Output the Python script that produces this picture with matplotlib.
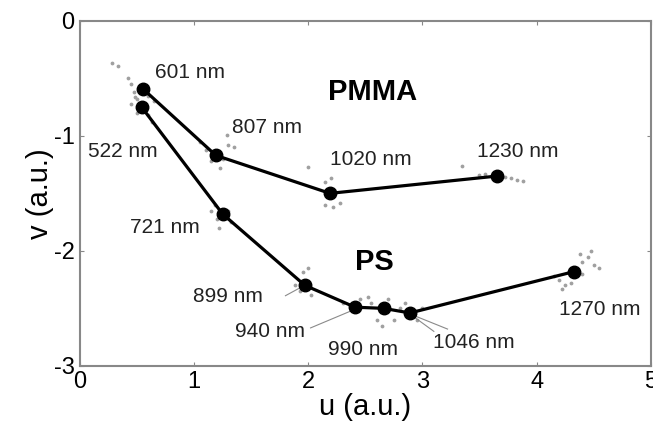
import matplotlib
matplotlib.use("Agg")
import matplotlib.pyplot as plt

plt.rcParams["font.family"] = ["Liberation Sans", "DejaVu Sans"]
plt.rcParams["axes.unicode_minus"] = False

# node positions
pmma_u = [0.55, 1.19, 2.19, 3.65]
pmma_v = [-0.59, -1.17, -1.50, -1.35]
pmma_labels = ["601 nm", "807 nm", "1020 nm", "1230 nm"]
pmma_label_u = [0.66, 1.33, 2.19, 3.48]
pmma_label_v = [-0.45, -0.93, -1.21, -1.14]

ps_u = [0.54, 1.25, 1.97, 2.41, 2.66, 2.89, 4.33]
ps_v = [-0.75, -1.68, -2.30, -2.49, -2.50, -2.54, -2.18]
ps_labels = ["522 nm", "721 nm", "899 nm", "940 nm", "990 nm", "1046 nm", "1270 nm"]
ps_label_u = [0.07, 0.44, 0.99, 1.36, 2.17, 3.09, 4.20]
ps_label_v = [-1.14, -1.80, -2.40, -2.70, -2.86, -2.80, -2.51]

# scattered measurements around the nodes
cloud_u = [0.28, 0.33, 0.42, 0.45, 0.60, 0.65, 0.50, 0.47, 0.45, 0.50, 0.60, 0.63, 0.48,
           1.05, 1.10, 1.15, 1.25, 1.30, 1.23, 1.35, 1.29,
           2.15, 2.20, 2.15, 2.22, 2.28, 2.00, 3.35,
           3.72, 3.78, 3.83, 3.88, 3.55, 3.50,
           1.18, 1.20, 1.30, 1.32, 1.22, 1.15,
           1.95, 2.00, 1.88, 2.02, 1.93,
           2.30, 2.45, 2.55, 2.60, 2.70, 2.75, 2.80, 2.95, 3.00, 2.65, 2.52, 2.85,
           4.20, 4.15, 4.25, 4.40, 4.45, 4.50, 4.40, 4.48, 4.38, 4.30, 4.22, 4.55]
cloud_v = [-0.37, -0.39, -0.50, -0.55, -0.65, -0.70, -0.68, -0.62, -0.72, -0.80, -0.82, -0.88, -0.66,
           -1.05, -1.12, -1.22, -1.20, -1.08, -1.28, -1.10, -0.99,
           -1.40, -1.37, -1.60, -1.62, -1.58, -1.27, -1.26,
           -1.36, -1.37, -1.38, -1.39, -1.33, -1.34,
           -1.60, -1.72, -1.65, -1.75, -1.80, -1.65,
           -2.18, -2.15, -2.30, -2.38, -2.35,
           -2.45, -2.42, -2.45, -2.60, -2.42, -2.60, -2.50, -2.60, -2.50, -2.65, -2.40, -2.45,
           -2.25, -2.22, -2.30, -2.10, -2.05, -2.12, -2.20, -2.00, -2.03, -2.28, -2.33, -2.15]

# thin leader lines (start u, start v, end u, end v)
leader_u0 = [1.80, 2.02, 2.92, 2.92]
leader_v0 = [-2.39, -2.67, -2.56, -2.57]
leader_u1 = [1.93, 2.38, 3.22, 3.10]
leader_v1 = [-2.32, -2.52, -2.68, -2.70]

fig = plt.figure(figsize=(6.53, 4.34), dpi=100)
ax = fig.add_axes([0.1225, 0.157, 0.874, 0.795])

ax.scatter(cloud_u, cloud_v, s=3, color="#a0a0a0", zorder=2)
for u0, v0, u1, v1 in zip(leader_u0, leader_v0, leader_u1, leader_v1):
    ax.plot([u0, u1], [v0, v1], color="#8a8a8a", lw=0.8, zorder=2)

ax.plot(pmma_u, pmma_v, color="black", lw=2.3, marker="o", ms=9, zorder=3)
ax.plot(ps_u, ps_v, color="black", lw=2.3, marker="o", ms=9, zorder=3)

for txt, u, v in zip(pmma_labels, pmma_label_u, pmma_label_v):
    ax.text(u, v, txt, fontsize=15, va="center", ha="left", color="#222222")
for txt, u, v in zip(ps_labels, ps_label_u, ps_label_v):
    ax.text(u, v, txt, fontsize=15, va="center", ha="left", color="#222222")

ax.text(2.17, -0.62, "PMMA", fontsize=21, fontweight="bold", va="center", ha="left")
ax.text(2.41, -2.10, "PS", fontsize=21, fontweight="bold", va="center", ha="left")

ax.set_xlim(0, 5)
ax.set_ylim(-3, 0)
ax.set_xticks([0, 1, 2, 3, 4, 5])
ax.set_yticks([-3, -2, -1, 0])
ax.tick_params(direction="in", top=True, right=True, length=3, labelsize=17,
               color="#888888", pad=4)
for sp in ax.spines.values():
    sp.set_color("#888888")
    sp.set_linewidth(1.5)

ax.set_xlabel("u (a.u.)", fontsize=21, labelpad=0)
ax.set_ylabel("v (a.u.)", fontsize=21, labelpad=0)

fig.savefig("out.png", dpi=100)
